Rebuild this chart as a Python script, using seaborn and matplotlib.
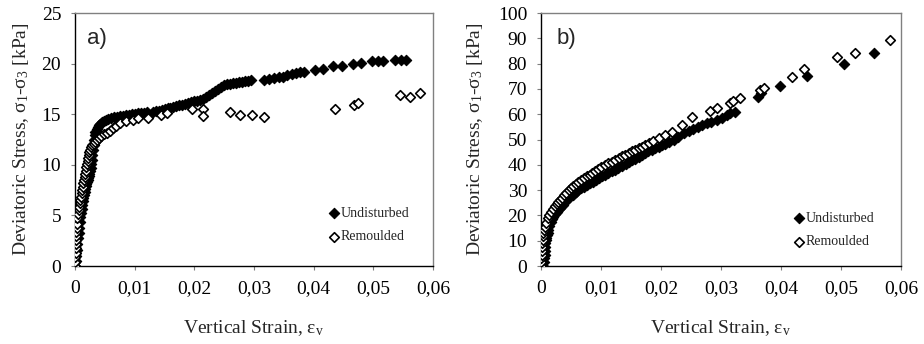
import numpy as np
import pandas as pd
import matplotlib
matplotlib.use('Agg')
import matplotlib.pyplot as plt
import seaborn as sns

sns.set_style('ticks')
plt.rcParams['font.family'] = ['Liberation Serif', 'DejaVu Serif']
plt.rcParams['mathtext.default'] = 'regular'

# ---- panel a) ----
a_und_strain = [0, .0001, .0002, .0003, .0004, .0005, .0006, .0007, .0008, .0009,
                .0010, .0011, .0012, .0013, .0014, .0015, .0016, .0017, .0018, .0019,
                .0020, .0021, .0022, .0023, .0024, .0025, .0026, .0027, .0028, .0029,
                .0030, .0031, .0032, .0033, .0034, .0036, .0038, .0040, .0042, .0045,
                .0048, .0052, .0056, .0060, .0065, .0070, .0075, .0080, .0085, .0090,
                .0095, .0100, .0105, .0110, .0115, .0120, .0130, .0135, .0140, .0145,
                .0150, .0155, .0160, .0165, .0170, .0175, .0180, .0185, .0190, .0195,
                .0200, .0205, .0210, .0215, .0220, .0225, .0230, .0235, .0240, .0245,
                .0250, .0255, .0260, .0265, .0270, .0275, .0280, .0285, .0290, .0295,
                .0316, .0325, .0333, .0342, .0349, .0356, .0363, .0370, .0377, .0383,
                .0402, .0415, .0433, .0447, .0466, .0480, .0497, .0507, .0517, .0536,
                .0546, .0555]
a_und_stress = [0, 0.5, 1.0, 1.6, 2.2, 2.8, 3.3, 3.8, 4.3, 4.8,
                5.2, 5.6, 6.0, 6.4, 6.7, 7.0, 7.3, 7.6, 7.9, 8.1,
                8.3, 8.5, 8.7, 8.9, 9.1, 9.4, 9.7, 10.1, 10.5, 11.0,
                11.5, 12.0, 12.5, 12.9, 13.2, 13.5, 13.7, 13.9, 14.0, 14.2,
                14.3, 14.4, 14.5, 14.6, 14.7, 14.7, 14.8, 14.8, 14.9, 14.9,
                15.0, 15.0, 15.1, 15.1, 15.1, 15.2, 15.2, 15.3, 15.3, 15.4,
                15.5, 15.6, 15.6, 15.7, 15.8, 15.9, 15.9, 16.0, 16.1, 16.2,
                16.3, 16.3, 16.4, 16.5, 16.7, 16.9, 17.1, 17.3, 17.5, 17.7,
                17.9, 18.0, 18.0, 18.1, 18.1, 18.2, 18.2, 18.3, 18.3, 18.4,
                18.4, 18.5, 18.6, 18.7, 18.7, 18.9, 19.0, 19.1, 19.2, 19.2,
                19.4, 19.5, 19.8, 19.8, 20.0, 20.1, 20.3, 20.3, 20.3, 20.4,
                20.4, 20.4]

a_rem_strain = [0, 0, 0, .0001, .0001, .0001, .0002, .0002, .0002, .0003,
                .0003, .0004, .0005, .0006, .0007, .0008, .0009, .0010, .0011, .0012,
                .0013, .0014, .0015, .0016, .0017, .0018, .0019, .0020, .0021, .0022,
                .0023, .0024, .0025, .0027, .0029, .0031, .0034, .0037, .0040, .0044,
                .0048, .0053, .0058, .0064, .0069, .0075, .0086, .0098, .0106, .0123,
                .0144, .0154, .0196, .0215, .0215, .0259, .0276, .0296, .0316, .0436,
                .0468, .0475, .0544, .0561, .0579]
a_rem_stress = [0, 0.4, 0.9, 1.3, 1.8, 2.2, 2.6, 3.0, 3.4, 3.8,
                4.2, 4.7, 5.1, 5.5, 5.8, 6.2, 6.5, 6.8, 7.2, 7.5,
                7.8, 8.2, 8.5, 8.8, 9.1, 9.4, 9.8, 10.1, 10.4, 10.7,
                11.0, 11.3, 11.5, 11.8, 12.0, 12.1, 12.3, 12.5, 12.6, 12.8,
                13.0, 13.1, 13.3, 13.6, 13.8, 14.1, 14.3, 14.4, 14.6, 14.6,
                14.9, 15.1, 15.5, 15.5, 14.8, 15.2, 14.9, 14.9, 14.7, 15.5,
                15.9, 16.1, 16.9, 16.7, 17.1]

# ---- panel b) ----
b_und_strain = [.0004, .0005, .0005, .0006, .0006, .0007, .0007, .0008, .0009, .0010,
                .0011, .0012, .0014, .0016, .0018, .0020, .0023, .0026, .0029, .0032,
                .0036, .0040, .0044, .0048, .0053, .0058, .0062, .0067, .0072, .0076,
                .0081, .0086, .0091, .0096, .0101, .0106, .0112, .0118, .0124, .0129,
                .0135, .0141, .0147, .0152, .0157, .0163, .0168, .0173, .0179, .0185,
                .0190, .0196, .0202, .0207, .0214, .0221, .0228, .0238, .0246, .0254,
                .0262, .0269, .0276, .0284, .0293, .0301, .0310, .0315, .0323, .0362,
                .0367, .0398, .0444, .0505, .0555]
b_und_stress = [0, 1.5, 3.0, 4.5, 6.0, 7.5, 9.0, 10.3, 11.2, 12.1,
                13.0, 14.2, 15.8, 17.2, 18.5, 19.5, 20.6, 21.4, 22.1, 22.8,
                24.2, 25.2, 26.3, 27.2, 28.2, 29.2, 29.9, 30.7, 31.4, 32.0,
                32.7, 33.4, 34.1, 34.8, 35.4, 36.0, 36.7, 37.4, 38.1, 38.8,
                39.5, 40.3, 41.1, 41.8, 42.4, 43.1, 43.8, 44.5, 45.3, 46.0,
                46.6, 47.2, 47.7, 48.2, 49.0, 49.8, 50.8, 52.4, 53.5, 54.2,
                55.1, 55.8, 56.4, 57.0, 57.7, 58.6, 59.7, 60.3, 61.0, 66.9,
                68.2, 71.1, 75.1, 79.8, 84.1]

b_rem_strain = [0, 0, 0, .0001, .0001, .0002, .0002, .0003, .0003, .0004,
                .0005, .0007, .0009, .0012, .0014, .0017, .0020, .0023, .0026, .0029,
                .0032, .0035, .0039, .0042, .0046, .0050, .0054, .0058, .0062, .0066,
                .0071, .0076, .0081, .0085, .0090, .0095, .0100, .0106, .0112, .0118,
                .0124, .0130, .0135, .0140, .0146, .0152, .0157, .0163, .0168, .0173,
                .0180, .0187, .0196, .0206, .0218, .0235, .0251, .0282, .0293, .0315,
                .0320, .0332, .0365, .0371, .0418, .0438, .0493, .0523, .0582]
b_rem_stress = [0, 1.5, 3.0, 4.5, 6.0, 7.5, 9.0, 10.4, 11.8, 13.0,
                14.2, 15.5, 17.0, 19.0, 20.2, 21.5, 22.6, 23.6, 24.6, 25.4,
                26.1, 26.9, 27.9, 28.8, 30.0, 30.9, 31.8, 32.6, 33.3, 34.0,
                34.8, 35.5, 36.0, 36.8, 37.5, 38.3, 39.0, 39.8, 40.6, 41.3,
                42.0, 42.7, 43.3, 43.9, 44.6, 45.3, 45.8, 46.5, 47.1, 47.8,
                48.6, 49.3, 50.6, 51.6, 53.1, 55.7, 58.8, 61.4, 62.5, 64.5,
                65.4, 66.3, 69.4, 70.2, 74.6, 77.7, 82.5, 84.3, 89.3]

x_ticks = [0, 0.01, 0.02, 0.03, 0.04, 0.05, 0.06]
x_ticklabels = ['0', '0,01', '0,02', '0,03', '0,04', '0,05', '0,06']
a_yticks = [0, 5, 10, 15, 20, 25]
b_yticks = [0, 10, 20, 30, 40, 50, 60, 70, 80, 90, 100]


def draw_panel(ax, und_x, und_y, rem_x, rem_y, yticks, tag, ylab_x, tag_x, leg_anchor):
    und = pd.DataFrame({'strain': und_x, 'stress': und_y})
    rem = pd.DataFrame({'strain': rem_x, 'stress': rem_y})
    sns.scatterplot(data=und, x='strain', y='stress', marker='D', s=28,
                    color='black', edgecolor='black', linewidth=0.8,
                    label='Undisturbed', ax=ax, zorder=3)
    sns.scatterplot(data=rem, x='strain', y='stress', marker='D', s=24,
                    color='white', edgecolor='black', linewidth=1.2,
                    label='Remoulded', ax=ax, zorder=4)

    ax.set_xlim(0, 0.06)
    ax.set_ylim(0, yticks[-1])
    ax.set_xticks(x_ticks)
    ax.set_xticklabels(x_ticklabels)
    ax.set_yticks(yticks)
    ax.tick_params(direction='out', length=3, width=0.8, color='#7f7f7f',
                   labelsize=14, pad=7, labelcolor='black')

    for side in ['left', 'bottom']:
        ax.spines[side].set_color('black')
        ax.spines[side].set_linewidth(1.0)
    for side in ['top', 'right']:
        ax.spines[side].set_visible(True)
        ax.spines[side].set_color('#808080')
        ax.spines[side].set_linewidth(1.0)

    ax.set_xlabel(r'Vertical Strain, $\varepsilon_v$', fontsize=14)
    ax.set_ylabel(r'Deviatoric Stress, $\sigma_1$-$\sigma_3$ [kPa]', fontsize=14)
    ax.xaxis.set_label_coords(0.5, -0.205)
    ax.yaxis.set_label_coords(ylab_x, 0.5)

    ax.text(tag_x, 0.94, tag, transform=ax.transAxes, va='top', ha='left',
            fontsize=16, family=['Liberation Sans', 'DejaVu Sans'])

    ax.legend(loc='lower left', bbox_to_anchor=leg_anchor, frameon=False,
              fontsize=10, handlelength=0.6, handletextpad=0.15,
              borderpad=0, borderaxespad=0, labelspacing=0.75)


fig = plt.figure(figsize=(9.24, 3.44), dpi=100)
ax_a = fig.add_axes([0.0812, 0.2267, 0.3874, 0.7355])
ax_b = fig.add_axes([0.5855, 0.2267, 0.3896, 0.7355])

draw_panel(ax_a, a_und_strain, a_und_stress, a_rem_strain, a_rem_stress,
           a_yticks, 'a)', -0.122, 0.034, (0.712, 0.09))
draw_panel(ax_b, b_und_strain, b_und_stress, b_rem_strain, b_rem_stress,
           b_yticks, 'b)', -0.155, 0.044, (0.706, 0.07))

fig.savefig('out.png', dpi=100)
